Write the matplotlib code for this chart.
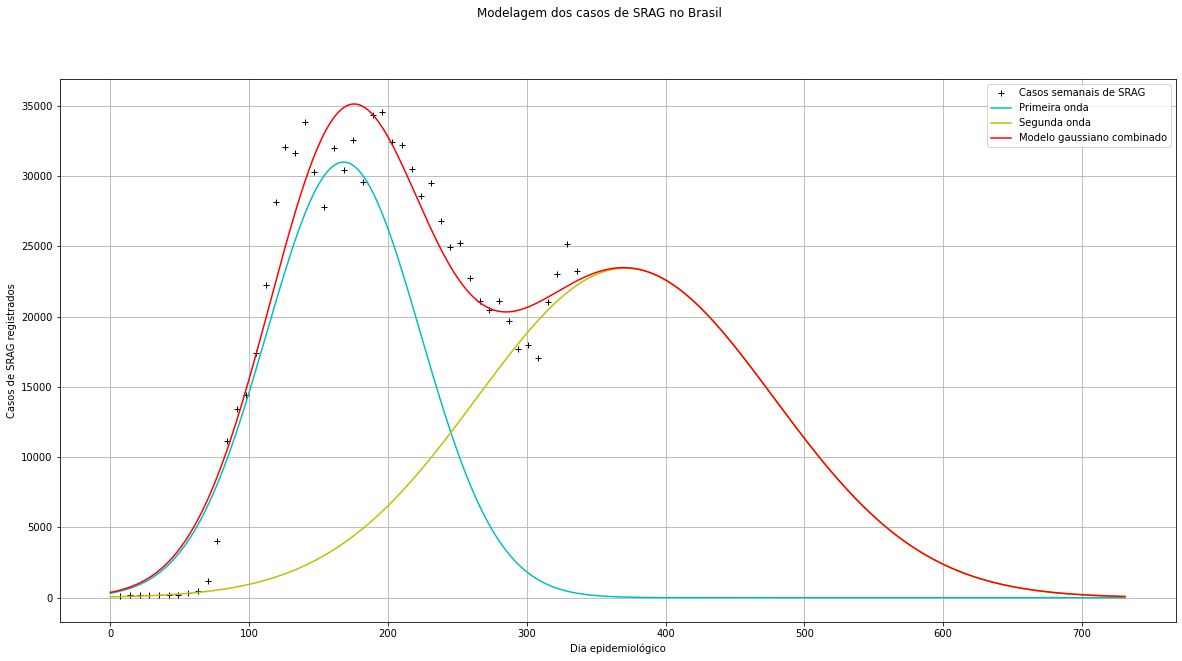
import numpy as np
import matplotlib
matplotlib.use("Agg")
import matplotlib.pyplot as plt

# casos semanais (dia epidemiológico, casos)
dias = [7, 14, 21, 28, 35, 42, 49, 56, 63, 70, 77, 84, 91, 98, 105, 112,
        119, 126, 133, 140, 147, 154, 161, 168, 175, 182, 189, 196, 203,
        210, 217, 224, 231, 238, 245, 252, 259, 266, 273, 280, 287, 294,
        301, 308, 315, 322, 329, 336]
casos = [120, 170, 170, 170, 170, 220, 220, 360, 460, 1180, 4020, 11150,
         13450, 14420, 17430, 22270, 28160, 32090, 31680, 33870, 30300,
         27800, 32000, 30450, 32560, 29570, 34360, 34550, 32440, 32200,
         30500, 28600, 29500, 26800, 24950, 25240, 22750, 21140, 20470,
         21140, 19710, 17700, 18010, 17080, 21040, 23050, 25160, 23270]

# parâmetros das gaussianas (amplitude, centro, largura)
onda1 = [31000, 168.0, 55.5]
onda2 = [23450, 371.0, 107.0]
dia_final = 731


def gauss(x, a, b, c):
    return a * np.exp(-(x - b) ** 2 / (2 * c ** 2))


t = np.arange(0, dia_final + 1)
g1 = gauss(t, *onda1)
g2 = gauss(t, *onda2)

fig = plt.figure(figsize=(1182 / 72, 661 / 72), dpi=72)
ax = fig.add_axes([0.0505, 0.0585, 0.9442, 0.8215])
fig.suptitle("Modelagem dos casos de SRAG no Brasil", x=0.507, y=0.99)

ax.plot(dias, casos, "k+", label="Casos semanais de SRAG")
ax.plot(t, g1, "c", label="Primeira onda")
ax.plot(t, g2, "y", label="Segunda onda")
ax.plot(t, g1 + g2, "r", label="Modelo gaussiano combinado")

ax.set_xlabel("Dia epidemiológico")
ax.set_ylabel("Casos de SRAG registrados")
ax.grid(True)
ax.legend(loc="upper right")

fig.savefig("out.png", dpi=72)
